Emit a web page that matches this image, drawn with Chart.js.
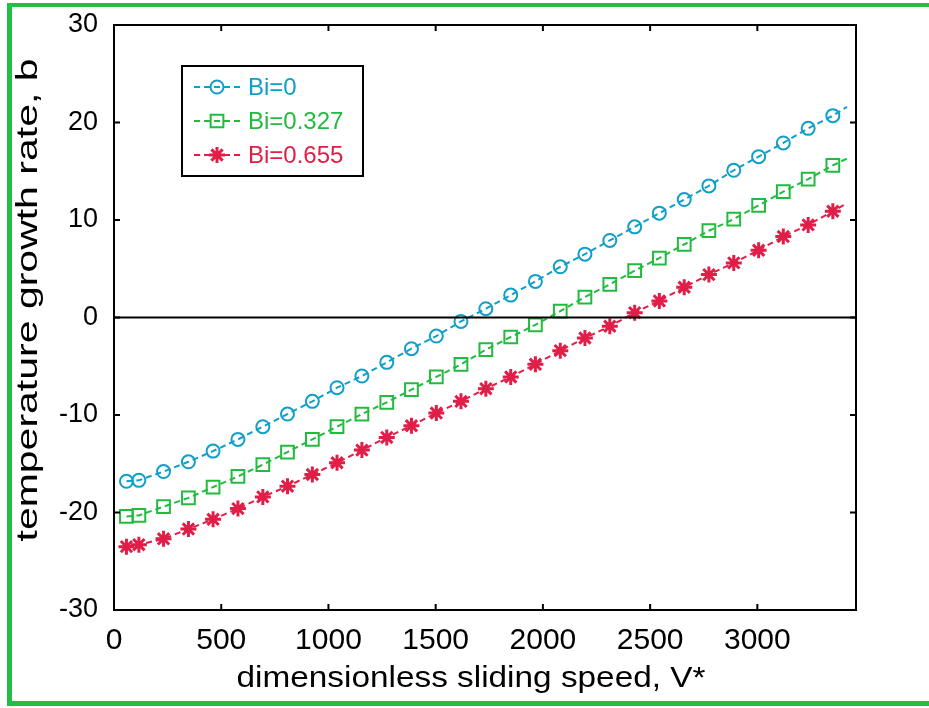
<!DOCTYPE html>
<html>
<head>
<meta charset="utf-8">
<script src="https://cdn.jsdelivr.net/npm/chart.js@4.4.1/dist/chart.umd.min.js"></script>
<style>
  html, body { margin: 0; padding: 0; background: #fff; overflow: hidden; }
  #wrap { position: relative; width: 929px; height: 708px; }
  #plot { position: absolute; left: 0; top: 0; }
  #frame {
    position: absolute; left: 7px; top: 3px; width: 1000px; height: 694px;
    border-left: 5px solid #22bf45; border-top: 4px solid #22bf45; border-bottom: 5px solid #22bf45;
    pointer-events: none;
  }
</style>
</head>
<body>
<div id="wrap">
  <canvas id="plot" width="929" height="708"></canvas>
  <div id="frame"></div>
</div>
<script>
// dimensionless sliding speed V* of each marker
const vValues = [58, 116, 231, 347, 462, 578, 694, 809, 925, 1040, 1156, 1272, 1387, 1503, 1618,
                 1734, 1850, 1965, 2081, 2196, 2312, 2428, 2543, 2659, 2774, 2890, 3006, 3121, 3237, 3352];

// temperature growth rate b
const biZero = [-16.8, -16.7, -15.8, -14.8, -13.7, -12.5, -11.2, -9.9, -8.6, -7.2, -6.0, -4.6, -3.2, -1.9, -0.4,
                0.9, 2.3, 3.7, 5.2, 6.5, 7.9, 9.3, 10.7, 12.1, 13.5, 15.1, 16.5, 17.9, 19.4, 20.7];
const biMid = [-20.4, -20.3, -19.4, -18.5, -17.4, -16.3, -15.1, -13.8, -12.5, -11.2, -9.9, -8.7, -7.4, -6.1, -4.8,
               -3.3, -2.0, -0.75, 0.65, 2.1, 3.4, 4.8, 6.1, 7.5, 8.9, 10.1, 11.5, 12.9, 14.2, 15.6];
const biHigh = [-23.5, -23.3, -22.7, -21.7, -20.7, -19.6, -18.4, -17.3, -16.1, -14.9, -13.6, -12.3, -11.1, -9.8, -8.6,
                -7.3, -6.1, -4.8, -3.4, -2.1, -0.9, 0.5, 1.7, 3.1, 4.4, 5.6, 6.9, 8.3, 9.5, 10.9];

// the dashed lines run a little past the last marker
const lineEndV = 3418;
const lineEndB = [21.6, 16.3, 11.7];

const seriesNames = ['Bi=0', 'Bi=0.327', 'Bi=0.655'];
const xTicks = [0, 500, 1000, 1500, 2000, 2500, 3000];
const yTicks = [-30, -20, -10, 0, 10, 20, 30];

const FONT = '"Liberation Sans", Arial, Helvetica, sans-serif';
const colors = ['#0f9fc8', '#22bb3f', '#e01e48'];
const styles = ['circle', 'rect', 'star'];
const radii = [6.5, 9, 8];

function makeData(vals, end) {
  return vValues.map((v, i) => ({ x: v, y: vals[i] })).concat([{ x: lineEndV, y: end }]);
}

function drawMarker(ctx, style, x, y, r) {
  ctx.beginPath();
  if (style === 'circle') {
    ctx.arc(x, y, r, 0, Math.PI * 2);
  } else if (style === 'rect') {
    const s = r * Math.SQRT1_2;
    ctx.rect(x - s, y - s, 2 * s, 2 * s);
  } else {
    for (let k = 0; k < 4; k++) {
      const a = k * Math.PI / 4;
      ctx.moveTo(x - r * Math.cos(a), y - r * Math.sin(a));
      ctx.lineTo(x + r * Math.cos(a), y + r * Math.sin(a));
    }
  }
  ctx.stroke();
}

function stretchText(ctx, text, cx, cy, angle, size, len) {
  ctx.save();
  ctx.font = size + 'px ' + FONT;
  const w = ctx.measureText(text).width;
  ctx.translate(cx, cy);
  ctx.rotate(angle);
  ctx.scale(len / w, 1);
  ctx.textAlign = 'center';
  ctx.textBaseline = 'alphabetic';
  ctx.fillStyle = '#000';
  ctx.fillText(text, 0, 0);
  ctx.restore();
}

const decor = {
  id: 'decor',
  afterDatasetsDraw(chart) {
    const { ctx, chartArea: a, scales: { x, y } } = chart;
    ctx.save();
    ctx.strokeStyle = '#000';
    ctx.lineWidth = 2;

    // zero line
    const y0 = y.getPixelForValue(0);
    ctx.beginPath();
    ctx.moveTo(a.left, y0);
    ctx.lineTo(a.right, y0);
    ctx.stroke();

    // axes box
    ctx.strokeRect(a.left, a.top, a.right - a.left, a.bottom - a.top);

    // ticks pointing inwards
    ctx.beginPath();
    xTicks.forEach(v => {
      const px = x.getPixelForValue(v);
      ctx.moveTo(px, a.bottom); ctx.lineTo(px, a.bottom - 6);
      ctx.moveTo(px, a.top); ctx.lineTo(px, a.top + 6);
    });
    yTicks.forEach(v => {
      const py = y.getPixelForValue(v);
      ctx.moveTo(a.left, py); ctx.lineTo(a.left + 6, py);
      ctx.moveTo(a.right, py); ctx.lineTo(a.right - 6, py);
    });
    ctx.stroke();

    // legend
    const bx = a.left + 68, by = a.top + 41;
    ctx.fillStyle = '#fff';
    ctx.fillRect(bx, by, 181, 110);
    ctx.strokeRect(bx, by, 181, 110);
    ctx.font = '24px ' + FONT;
    ctx.textBaseline = 'middle';
    ctx.textAlign = 'left';
    seriesNames.forEach((name, i) => {
      const ry = by + 21 + i * 34;
      ctx.strokeStyle = colors[i];
      ctx.lineWidth = 2;
      ctx.setLineDash([6, 4]);
      ctx.beginPath();
      ctx.moveTo(bx + 12, ry);
      ctx.lineTo(bx + 60, ry);
      ctx.stroke();
      ctx.setLineDash([]);
      ctx.lineWidth = i === 2 ? 3 : 2;
      drawMarker(ctx, styles[i], bx + 35, ry, radii[i]);
      ctx.fillStyle = colors[i];
      ctx.fillText(name, bx + 66, ry + 1);
    });
    ctx.restore();

    // axis titles
    stretchText(ctx, 'dimensionless sliding speed, V*', 471, 687, 0, 30, 469);
    stretchText(ctx, 'temperature growth rate, b', 37, 300, -Math.PI / 2, 29, 483);
  }
};

new Chart(document.getElementById('plot'), {
  type: 'line',
  data: {
    datasets: [biZero, biMid, biHigh].map((vals, i) => ({
      label: seriesNames[i],
      data: makeData(vals, lineEndB[i]),
      borderColor: colors[i],
      backgroundColor: 'rgba(0,0,0,0)',
      borderWidth: 2,
      borderDash: [6, 4],
      pointStyle: styles[i],
      pointRadius: c => c.dataIndex < vValues.length ? radii[i] : 0,
      pointBorderWidth: i === 2 ? 3 : 2,
      pointBorderColor: colors[i],
      pointBackgroundColor: 'rgba(0,0,0,0)',
      tension: 0
    }))
  },
  options: {
    responsive: false,
    animation: false,
    layout: { padding: { left: 0, top: 25, right: 73, bottom: 0 } },
    plugins: { legend: { display: false }, tooltip: { enabled: false } },
    scales: {
      x: {
        type: 'linear', min: 0, max: 3460,
        grid: { display: false }, border: { display: false },
        ticks: {
          font: { family: FONT, size: 30 }, color: '#000', padding: 5, maxRotation: 0, autoSkip: false,
          callback: v => String(v)
        },
        afterBuildTicks: s => { s.ticks = xTicks.map(v => ({ value: v })); },
        afterFit: s => { s.height = 98; s.paddingLeft = 0; s.paddingRight = 0; }
      },
      y: {
        type: 'linear', min: -30, max: 30,
        grid: { display: false }, border: { display: false },
        ticks: { font: { family: FONT, size: 27 }, color: '#000', padding: 8, callback: v => String(v) },
        afterBuildTicks: s => { s.ticks = yTicks.map(v => ({ value: v })); },
        afterFit: s => { s.width = 114; s.paddingTop = 0; s.paddingBottom = 0; }
      }
    }
  },
  plugins: [decor]
});
</script>
</body>
</html>
